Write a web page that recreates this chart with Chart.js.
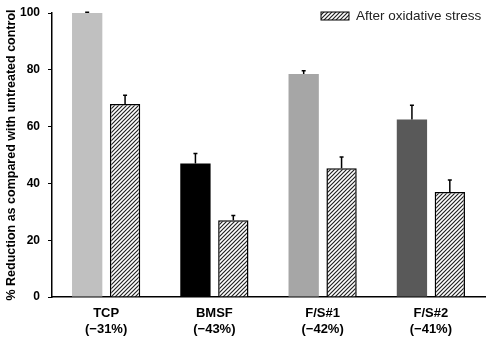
<!DOCTYPE html>
<html>
<head>
<meta charset="utf-8">
<script src="https://cdn.jsdelivr.net/npm/chart.js@4.4.0/dist/chart.umd.min.js"></script>
<style>
  html, body { margin: 0; padding: 0; background: #fff; }
  #wrap { width: 490px; height: 348px; }
</style>
</head>
<body>
<div id="wrap"><canvas id="barChart"></canvas></div>
<script>
const groups = [["TCP", "(\u221231%)"], ["BMSF", "(\u221243%)"], ["F/S#1", "(\u221242%)"], ["F/S#2", "(\u221241%)"]];
const beforeValues = [100, 47, 78.5, 62.5];
const beforeErrors = [0.3, 3.5, 1.2, 5];
const afterValues = [68, 27, 45.3, 37];
const afterErrors = [3, 1.7, 4, 4.2];
const groupColors = ["#c0c0c0", "#000000", "#a6a6a6", "#595959"];
const afterLabel = "After oxidative stress";

const fontFamily = "'Liberation Sans', Arial, sans-serif";

function makeHatch() {
  const size = 4;
  const c = document.createElement("canvas");
  c.width = size;
  c.height = size;
  const ctx = c.getContext("2d");
  ctx.fillStyle = "#fff";
  ctx.fillRect(0, 0, size, size);
  ctx.strokeStyle = "#222";
  ctx.lineWidth = 1.2;
  ctx.beginPath();
  ctx.moveTo(-1, size + 1);
  ctx.lineTo(size + 1, -1);
  ctx.moveTo(-1, 1);
  ctx.lineTo(1, -1);
  ctx.moveTo(size - 1, size + 1);
  ctx.lineTo(size + 1, size - 1);
  ctx.stroke();
  return ctx.createPattern(c, "repeat");
}

const hatch = makeHatch();

// upward-only error bars with a small cap
const errorBars = {
  id: "errorBars",
  afterDatasetsDraw(chart) {
    const ctx = chart.ctx;
    const y = chart.scales.y;
    ctx.save();
    ctx.strokeStyle = "#000";
    ctx.lineWidth = 1.5;
    chart.data.datasets.forEach((ds, di) => {
      const meta = chart.getDatasetMeta(di);
      meta.data.forEach((bar, i) => {
        const top = y.getPixelForValue(ds.data[i] + ds.errors[i]);
        ctx.beginPath();
        ctx.moveTo(bar.x, bar.y);
        ctx.lineTo(bar.x, top);
        ctx.moveTo(bar.x - 2, top);
        ctx.lineTo(bar.x + 2, top);
        ctx.stroke();
      });
    });
    ctx.restore();
  }
};

// legend entry sitting inside the plot, top right
const cornerLegend = {
  id: "cornerLegend",
  afterDraw(chart) {
    const ctx = chart.ctx;
    const ds = chart.data.datasets[1];
    const x = 321, yTop = 12;
    ctx.save();
    ctx.fillStyle = ds.backgroundColor;
    ctx.fillRect(x, yTop, 28, 8);
    ctx.strokeStyle = "#000";
    ctx.lineWidth = 1;
    ctx.strokeRect(x, yTop, 28, 8);
    ctx.fillStyle = "#222";
    ctx.font = "13.5px " + fontFamily;
    ctx.textBaseline = "middle";
    ctx.fillText(ds.label, x + 35, yTop + 4);
    ctx.restore();
  }
};

new Chart(document.querySelector("#barChart").getContext("2d"), {
  type: "bar",
  data: {
    labels: groups,
    datasets: [
      {
        label: "Before",
        data: beforeValues,
        errors: beforeErrors,
        backgroundColor: groupColors,
        borderWidth: 0,
      },
      {
        label: afterLabel,
        data: afterValues,
        errors: afterErrors,
        backgroundColor: hatch,
        borderColor: "#000",
        borderWidth: 1.5,
      },
    ],
  },
  options: {
    responsive: true,
    maintainAspectRatio: false,
    animation: false,
    categoryPercentage: 0.7,
    barPercentage: 0.8,
    layout: { padding: { top: 13, right: 5, left: 0, bottom: 0 } },
    plugins: {
      legend: { display: false },
      tooltip: { enabled: false },
    },
    scales: {
      x: {
        grid: { display: false, drawTicks: false },
        border: { color: "#000", width: 1.5 },
        ticks: {
          color: "#000",
          padding: 8,
          font: { family: fontFamily, size: 13, weight: "bold", lineHeight: 1.25 },
        },
        afterFit(scale) { scale.height = 51; },
      },
      y: {
        min: 0,
        max: 100,
        grid: { drawOnChartArea: false, tickLength: 4, color: "#000" },
        border: { color: "#000", width: 1.5 },
        ticks: {
          stepSize: 20,
          color: "#000",
          padding: 8,
          font: { family: fontFamily, size: 12, weight: "bold" },
        },
        title: {
          display: true,
          text: "% Reduction as compared with untreated control",
          color: "#000",
          padding: { top: 4, bottom: 2 },
          font: { family: fontFamily, size: 12.5, weight: "bold" },
        },
        afterFit(scale) {
          scale.width = 52;
          scale.paddingTop = 6;
          scale.paddingBottom = 6;
        },
      },
    },
  },
  plugins: [errorBars, cornerLegend],
});
</script>
</body>
</html>
